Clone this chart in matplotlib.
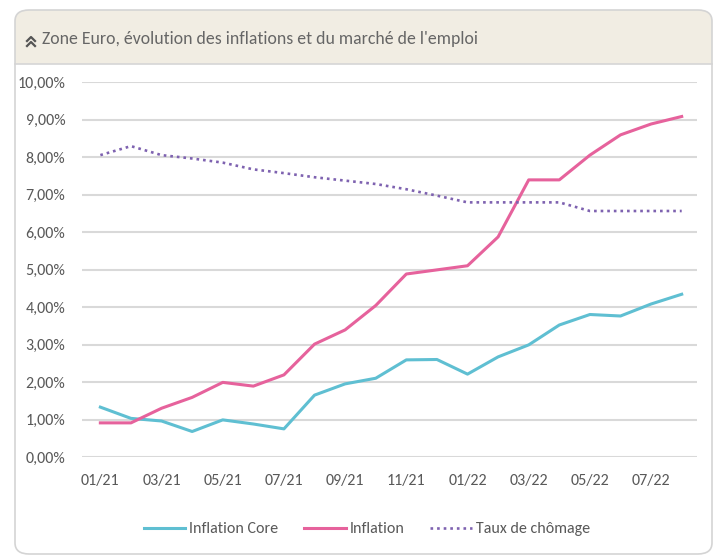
import matplotlib
matplotlib.use('Agg')
import matplotlib.pyplot as plt
import matplotlib.ticker as ticker
from matplotlib.patches import FancyBboxPatch, Rectangle
from matplotlib.lines import Line2D

plt.rcParams['font.family'] = ['Carlito', 'DejaVu Sans']

# data (percent)
months = ['01/21', '02/21', '03/21', '04/21', '05/21', '06/21', '07/21', '08/21', '09/21', '10/21',
          '11/21', '12/21', '01/22', '02/22', '03/22', '04/22', '05/22', '06/22', '07/22', '08/22']
inflation_core = [1.33, 1.03, 0.96, 0.68, 0.99, 0.88, 0.75, 1.65, 1.95, 2.10,
                  2.59, 2.60, 2.21, 2.67, 2.99, 3.52, 3.80, 3.76, 4.08, 4.34]
inflation = [0.91, 0.91, 1.30, 1.59, 1.99, 1.89, 2.19, 3.01, 3.39, 4.04,
             4.88, 4.99, 5.10, 5.87, 7.39, 7.39, 8.05, 8.59, 8.88, 9.08]
chomage = [8.05, 8.29, 8.05, 7.96, 7.85, 7.67, 7.57, 7.46, 7.37, 7.28,
           7.14, 6.97, 6.79, 6.79, 6.79, 6.79, 6.56, 6.56, 6.56, 6.56]
y_ticks = [0, 1, 2, 3, 4, 5, 6, 7, 8, 9, 10]

title = "Zone Euro, évolution des inflations et du marché de l'emploi"
text_col = '#595959'
W, H = 714, 556

fig = plt.figure(figsize=(W / 100, H / 100), dpi=100)

def fx(px):
    return px / W

def fy(py):
    return 1 - py / H

# card background + title bar
card = FancyBboxPatch((fx(15), fy(554)), fx(697), 544 / H, boxstyle='round,pad=0,rounding_size=0.02',
                      transform=fig.transFigure, facecolor='white', edgecolor='none', zorder=0)
fig.patches.append(card)
bar = FancyBboxPatch((fx(15), fy(64)), fx(697), 54 / H, boxstyle='round,pad=0,rounding_size=0.02',
                     transform=fig.transFigure, facecolor='#f1ede3', edgecolor='none', zorder=1)
fig.patches.append(bar)
fig.patches.append(Rectangle((fx(15), fy(64)), fx(697), 30 / H, transform=fig.transFigure,
                             facecolor='#f1ede3', edgecolor='none', zorder=1))
fig.lines.append(Line2D([fx(15), fx(712)], [fy(64), fy(64)], transform=fig.transFigure,
                        color='#d6d6d6', lw=1.2, zorder=2))
edge = FancyBboxPatch((fx(15), fy(554)), fx(697), 544 / H, boxstyle='round,pad=0,rounding_size=0.02',
                      transform=fig.transFigure, facecolor='none', edgecolor='#d4d4d4', lw=1.2, zorder=3)
fig.patches.append(edge)

# double chevron icon
for dy in (0, 5):
    fig.lines.append(Line2D([fx(27), fx(31), fx(35)], [fy(41 + dy), fy(37 + dy), fy(41 + dy)],
                            transform=fig.transFigure, color='#555555', lw=1.6, zorder=4))
fig.text(fx(42), fy(39), title, fontsize=12.8, color='#666666', va='center', ha='left', zorder=4)

ax = fig.add_axes([fx(82), fy(457), fx(697 - 82), (457 - 82) / H])
ax.set_zorder(5)
ax.set_facecolor('none')
x = list(range(len(months)))
ax.plot(x, inflation_core, color='#5fbfd2', lw=2.2, label='Inflation Core')
ax.plot(x, inflation, color='#e6629c', lw=2.2, label='Inflation')
ax.plot(x, chomage, color='#7e62b0', lw=1.9, linestyle=(0, (1, 1.5)), label='Taux de chômage')

ax.set_xlim(-0.6, 19.5)
ax.set_ylim(0, 10)
ax.set_yticks(y_ticks)
ax.yaxis.set_major_formatter(ticker.FuncFormatter(lambda v, pos: f'{v:.2f}%'.replace('.', ',')))
ax.set_xticks(x[::2])
ax.set_xticklabels(months[::2])
ax.grid(axis='y', color='#d9d9d9', lw=1.5)
ax.set_axisbelow(True)
for s in ax.spines.values():
    s.set_visible(False)
ax.tick_params(length=0, labelsize=11.5, colors=text_col, pad=12)
ax.tick_params(axis='x', pad=12)

ax.legend(loc='center', bbox_to_anchor=(0.463, (457 - 529) / (457 - 82)), ncol=3, frameon=False,
          fontsize=11.5, labelcolor=text_col, handlelength=2.6, handletextpad=0.25, columnspacing=1.6)

fig.savefig('out.png', dpi=100)
